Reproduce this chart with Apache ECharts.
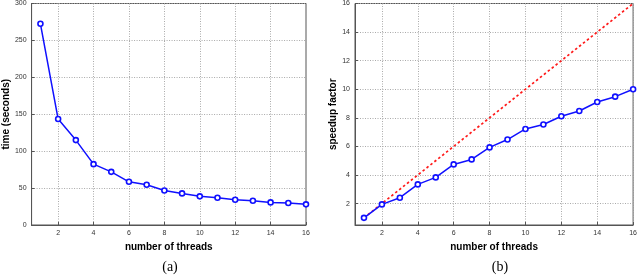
<!DOCTYPE html>
<html><head><meta charset="utf-8">
<script src="https://cdn.jsdelivr.net/npm/echarts@6/dist/echarts.min.js"></script>
<style>html,body{margin:0;padding:0;background:#fff}#c{width:640px;height:276px}</style>
</head><body><div id="c"></div>
<script>
const threads = [1,2,3,4,5,6,7,8,9,10,11,12,13,14,15,16];
const timeSeconds = [272.5,143.5,115,82.4,72,58.5,54.5,46.8,42.8,38.8,36.9,34.2,32.9,30.6,29.7,28];
const speedup = [1,1.94,2.41,3.34,3.83,4.74,5.09,5.93,6.48,7.22,7.53,8.11,8.48,9.11,9.48,10];
const idealX = [1,16];
const idealY = [1,16];
const xTicks = [2,4,6,8,10,12,14,16];
const timeTicks = [0,50,100,150,200,250,300];
const speedTicks = [2,4,6,8,10,12,14,16];

const chart = echarts.init(document.getElementById('c'));
const tickLabel = {fontSize: 7, color: '#333', fontFamily: 'Liberation Sans', margin: 5};
const nameStyle = {fontSize: 10, fontWeight: 'bold', color: '#000', fontFamily: 'Liberation Sans'};
const split = {show: true, lineStyle: {type: [1,1.5], color: '#aaa', width: 1}};
function xAx(gi){
  return {type:'value', gridIndex:gi, min:0.5, max:16,
    name:'number of threads', nameLocation:'middle', nameGap:13, nameTextStyle:nameStyle,
    axisLine:{show:true, lineStyle:{color:'#555', width:1}},
    axisTick:{show:true, inside:true, length:3, customValues:xTicks, lineStyle:{color:'#555'}},
    axisLabel:Object.assign({customValues:xTicks}, tickLabel),
    splitLine:split};
}
chart.setOption({
  animation:false,
  title:[
    {text:'(a)', left:165, top:255, textAlign:'center', textStyle:{fontSize:14, fontWeight:'normal', fontFamily:'Liberation Serif', color:'#000'}},
    {text:'(b)', left:495, top:255, textAlign:'center', textStyle:{fontSize:14, fontWeight:'normal', fontFamily:'Liberation Serif', color:'#000'}}
  ],
  grid:[
    {left:25, top:3, width:281, height:222, show:true, borderColor:'#555', borderWidth:1},
    {left:355, top:3, width:280, height:222, show:true, borderColor:'#555', borderWidth:1}
  ],
  xAxis:[xAx(0), xAx(1)],
  yAxis:[
    {type:'value', gridIndex:0, min:0, max:300, interval:50,
     name:'time (seconds)', nameLocation:'middle', nameGap:16, nameTextStyle:nameStyle,
     axisLine:{show:true, lineStyle:{color:'#555'}},
     axisTick:{show:true, inside:true, length:3, lineStyle:{color:'#555'}},
     axisLabel:tickLabel, splitLine:split},
    {type:'value', gridIndex:1, min:0.5, max:16,
     name:'speedup factor', nameLocation:'middle', nameGap:14, nameTextStyle:nameStyle,
     axisLine:{show:true, lineStyle:{color:'#555'}},
     axisTick:{show:true, inside:true, length:3, customValues:speedTicks, lineStyle:{color:'#555'}},
     axisLabel:Object.assign({customValues:speedTicks}, tickLabel), splitLine:split}
  ],
  series:[
    {type:'line', xAxisIndex:0, yAxisIndex:0, data:threads.map((t,i)=>[t,timeSeconds[i]]),
     symbol:'circle', symbolSize:5, lineStyle:{color:'#1010ff', width:1.5},
     itemStyle:{color:'#fff', borderColor:'#1010ff', borderWidth:1.6}},
    {type:'line', xAxisIndex:1, yAxisIndex:1, data:idealX.map((t,i)=>[t,idealY[i]]),
     symbol:'none', lineStyle:{color:'#ff1a1a', width:1.7, type:[2.5,2.5]}},
    {type:'line', xAxisIndex:1, yAxisIndex:1, data:threads.map((t,i)=>[t,speedup[i]]),
     symbol:'circle', symbolSize:5, lineStyle:{color:'#1010ff', width:1.5},
     itemStyle:{color:'#fff', borderColor:'#1010ff', borderWidth:1.6}}
  ]
});
</script></body></html>
